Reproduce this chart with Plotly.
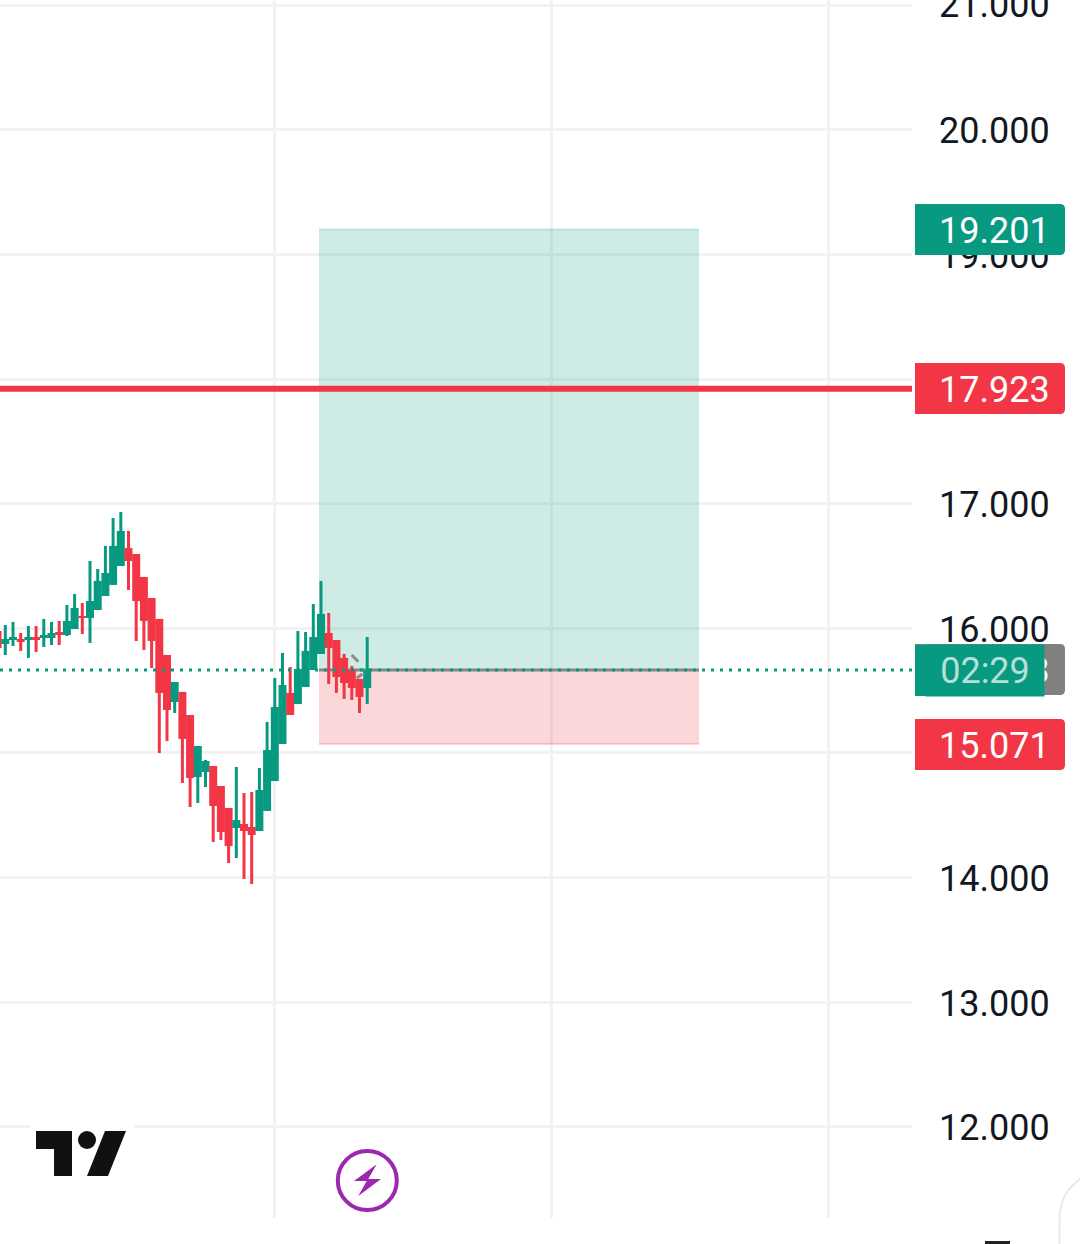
import plotly.graph_objects as go

GREEN = "#089981"
RED = "#F23645"
GRID = "#F2F2F2"
TEXT = "#131722"

# Bar numbers run from -1; the vertical grid falls about every 36 bars.
bars = list(range(-1, 48))
opens = [15.978, 15.874, 15.906, 15.914, 15.906, 15.930, 15.922, 15.922, 15.970, 15.946, 15.994, 16.099,
         16.083, 16.147, 16.259, 16.348, 16.500, 16.644, 16.596, 16.412, 16.243, 16.075, 15.786, 15.408,
         15.489, 15.304, 14.807, 14.847, 14.895, 14.734, 14.558, 14.397, 14.429, 14.405, 14.373, 14.534,
         14.774, 15.071, 15.481, 15.392, 15.529, 15.665, 15.794, 15.962, 15.906, 15.762, 15.665, 15.593, 15.521]
highs = [15.978, 16.026, 16.051, 15.962, 16.018, 16.018, 16.075, 16.051, 16.059, 16.187, 16.275, 16.203,
         16.540, 16.476, 16.661, 16.885, 16.933, 16.781, 16.596, 16.412, 16.243, 16.075, 15.786, 15.569,
         15.489, 15.304, 15.055, 14.943, 14.895, 14.734, 14.558, 14.887, 14.678, 14.686, 14.879, 15.248,
         15.601, 15.802, 15.689, 15.978, 15.970, 16.195, 16.380, 16.123, 15.906, 15.794, 15.697, 15.593, 15.930]
lows = [15.842, 15.786, 15.858, 15.818, 15.762, 15.810, 15.850, 15.866, 15.866, 15.938, 15.994, 15.954,
        15.882, 16.147, 16.259, 16.348, 16.500, 16.307, 15.898, 15.826, 15.681, 14.999, 15.095, 15.320,
        14.758, 14.566, 14.598, 14.726, 14.285, 14.301, 14.116, 14.156, 13.988, 13.948, 14.373, 14.534,
        14.774, 15.071, 15.304, 15.392, 15.529, 15.665, 15.794, 15.553, 15.481, 15.433, 15.425, 15.320, 15.392]
closes = [15.842, 15.914, 15.930, 15.890, 15.930, 15.906, 15.946, 15.962, 15.946, 16.059, 16.163, 16.083,
          16.219, 16.380, 16.444, 16.661, 16.781, 16.540, 16.219, 16.059, 15.898, 15.481, 15.344, 15.569,
          15.112, 14.799, 15.055, 14.935, 14.574, 14.365, 14.253, 14.461, 14.373, 14.341, 14.702, 15.023,
          15.368, 15.545, 15.304, 15.673, 15.818, 15.930, 16.115, 15.842, 15.609, 15.561, 15.521, 15.449, 15.665]

grid_bars = [34.97, 70.93, 106.88]
price_ticks = [12, 13, 14, 15, 16, 17, 18, 19, 20, 21]
hidden_labels = {15, 18, 21}
price_labels = ["" if p in hidden_labels else f"{p}.000" for p in price_ticks]

stop_price = 15.071
entry_price = 15.665
target_price = 19.201
line_price = 17.923
zone_start_bar = 40.74
zone_end_bar = 90.09

X_RANGE = [-0.688, 117.753]
Y_RANGE = [11.267, 21.0425]
PLOT_W, PLOT_H = 912, 1218


def X(px):
    return px / PLOT_W


def Y(py):
    return 1 - py / PLOT_H


def poly(points):
    return "M " + " L ".join(f"{X(a):.5f},{Y(b):.5f}" for a, b in points) + " Z"


def tag_path(x0, x1, y0, y1, r=5):
    return (f"M {X(x0):.5f},{Y(y0):.5f} L {X(x1-r):.5f},{Y(y0):.5f} "
            f"Q {X(x1):.5f},{Y(y0):.5f} {X(x1):.5f},{Y(y0+r):.5f} "
            f"L {X(x1):.5f},{Y(y1-r):.5f} Q {X(x1):.5f},{Y(y1):.5f} {X(x1-r):.5f},{Y(y1):.5f} "
            f"L {X(x0):.5f},{Y(y1):.5f} Z")


def paper_shape(**kw):
    return dict(xref="paper", yref="paper", **kw)


colors = [GREEN if c >= o else RED for o, c in zip(opens, closes)]

fig = go.Figure()
fig.add_trace(go.Bar(x=bars, y=[h - l for h, l in zip(highs, lows)], base=lows, width=0.39,
                     marker=dict(color=colors, line=dict(width=0)), hoverinfo="skip", name="wick"))
fig.add_trace(go.Bar(x=bars, y=[abs(o - c) for o, c in zip(opens, closes)],
                     base=[min(o, c) for o, c in zip(opens, closes)], width=1.04,
                     marker=dict(color=colors, line=dict(width=0)), hoverinfo="skip", name="body"))
fig.add_trace(go.Scatter(x=X_RANGE, y=[line_price] * 2, mode="lines",
                         line=dict(color=RED, width=6), hoverinfo="skip"))
fig.add_trace(go.Scatter(x=X_RANGE, y=[entry_price] * 2, mode="lines",
                         line=dict(color=GREEN, width=3, dash="3px,6px"), hoverinfo="skip"))

shapes = [
    dict(type="rect", xref="x", yref="y", x0=zone_start_bar, x1=zone_end_bar, y0=entry_price, y1=target_price,
         fillcolor="rgba(8,153,129,0.2)", line=dict(width=0), layer="between"),
    dict(type="rect", xref="x", yref="y", x0=zone_start_bar, x1=zone_end_bar, y0=stop_price, y1=entry_price,
         fillcolor="rgba(242,54,69,0.2)", line=dict(width=0), layer="between"),
    dict(type="line", xref="x", yref="y", x0=zone_start_bar, x1=zone_end_bar, y0=target_price, y1=target_price,
         line=dict(color="rgba(8,153,129,0.2)", width=2), layer="between"),
    dict(type="line", xref="x", yref="y", x0=zone_start_bar, x1=zone_end_bar, y0=stop_price, y1=stop_price,
         line=dict(color="rgba(242,54,69,0.2)", width=2), layer="between"),
    dict(type="line", xref="x", yref="y", x0=zone_start_bar, x1=zone_end_bar, y0=entry_price, y1=entry_price,
         line=dict(color="#868686", width=3), layer="between"),
    # small grey drawing marks by the last candles
    paper_shape(type="line", x0=X(351.7), x1=X(358.3), y0=Y(655), y1=Y(661.7), line=dict(color="#8c8c8c", width=3)),
    paper_shape(type="line", x0=X(356.7), x1=X(362.3), y0=Y(678.3), y1=Y(674), line=dict(color="#8c8c8c", width=3)),
    # price tags
    paper_shape(type="path", path=tag_path(915, 1065, 204, 255), fillcolor=GREEN, line=dict(width=0)),
    paper_shape(type="path", path=tag_path(915, 1065, 363, 414), fillcolor=RED, line=dict(width=0)),
    paper_shape(type="path", path=tag_path(915, 1065, 644, 695), fillcolor="#808080", line=dict(width=0)),
    paper_shape(type="path", path=tag_path(915, 1043, 645, 696), fillcolor=GREEN, line=dict(width=0)),
    paper_shape(type="path", path=tag_path(915, 1065, 719, 770), fillcolor=RED, line=dict(width=0)),
    # TradingView logo
    paper_shape(type="rect", x0=X(30), x1=X(134), y0=Y(1125), y1=Y(1180), fillcolor="white", line=dict(width=0)),
    paper_shape(type="path", path=poly([(36, 1131), (72, 1131), (72, 1176), (54, 1176), (54, 1149), (36, 1149)]),
                fillcolor="#111111", line=dict(width=0)),
    paper_shape(type="circle", x0=X(78), x1=X(96), y0=Y(1131), y1=Y(1149), fillcolor="#111111", line=dict(width=0)),
    paper_shape(type="path", path=poly([(105, 1131), (126, 1131), (108, 1176), (87, 1176)]),
                fillcolor="#111111", line=dict(width=0)),
    # purple bolt badge
    paper_shape(type="circle", x0=X(337.8), x1=X(396.8), y0=Y(1151), y1=Y(1210), fillcolor="white",
                line=dict(color="#9C27B0", width=4)),
    paper_shape(type="path", path=poly([(376.7, 1164.3), (354, 1181), (366.7, 1181), (358.3, 1196), (381, 1179), (368.3, 1179)]),
                fillcolor="#9C27B0", line=dict(width=0)),
    # bottom right screen furniture
    paper_shape(type="path",
                path=f"M {X(1059.5)},{Y(1250)} L {X(1059.5)},{Y(1218)} Q {X(1060)},{Y(1192)} {X(1082)},{Y(1178)}",
                line=dict(color="#E9E9E9", width=2)),
    paper_shape(type="rect", x0=X(985), x1=X(1010), y0=Y(1241), y1=Y(1246), fillcolor="#222222", line=dict(width=0)),
]

TAG_FONT = dict(family="Roboto", size=36, color="white")


def tag_text(text, cy):
    return dict(xref="paper", yref="paper", x=X(995), y=Y(cy), text=text, showarrow=False,
                xanchor="center", yanchor="middle", font=TAG_FONT)


annotations = [
    dict(xref="paper", yref="paper", x=X(994.5), y=Y(5), text="21.000", showarrow=False,
         xanchor="center", yanchor="middle", font=dict(family="Roboto", size=36, color=TEXT)),
    tag_text("19.201", 231),
    tag_text("17.923", 390),
    tag_text("15.071", 746),
    tag_text("15.663", 671),
    dict(xref="paper", yref="paper", x=X(925), y=Y(670.5), text="02:29", showarrow=False,
         xanchor="left", yanchor="middle", width=118, height=51, borderpad=0, align="center",
         bgcolor=GREEN, font=dict(family="Roboto", size=36, color="#B5E0D9")),
]

fig.update_layout(
    width=1080, height=1244, margin=dict(l=0, r=168, t=0, b=26),
    paper_bgcolor="white", plot_bgcolor="white",
    barmode="overlay", showlegend=False, hovermode=False,
    shapes=shapes, annotations=annotations,
    xaxis=dict(range=X_RANGE, tickmode="array", tickvals=grid_bars, showticklabels=False, ticks="",
               showgrid=True, gridcolor=GRID, gridwidth=3, zeroline=False, showline=False, fixedrange=True),
    yaxis=dict(range=Y_RANGE, side="right", tickmode="array", tickvals=price_ticks, ticktext=price_labels,
               ticks="", ticklabelstandoff=26, ticklabelshift=1, showgrid=True, gridcolor=GRID, gridwidth=3,
               zeroline=False, showline=False, fixedrange=True,
               tickfont=dict(family="Roboto", size=36, color=TEXT)),
)

fig.write_html("out.html", config=dict(displayModeBar=False),
               post_script="document.body.style.margin='0';document.documentElement.style.overflow='hidden';")
